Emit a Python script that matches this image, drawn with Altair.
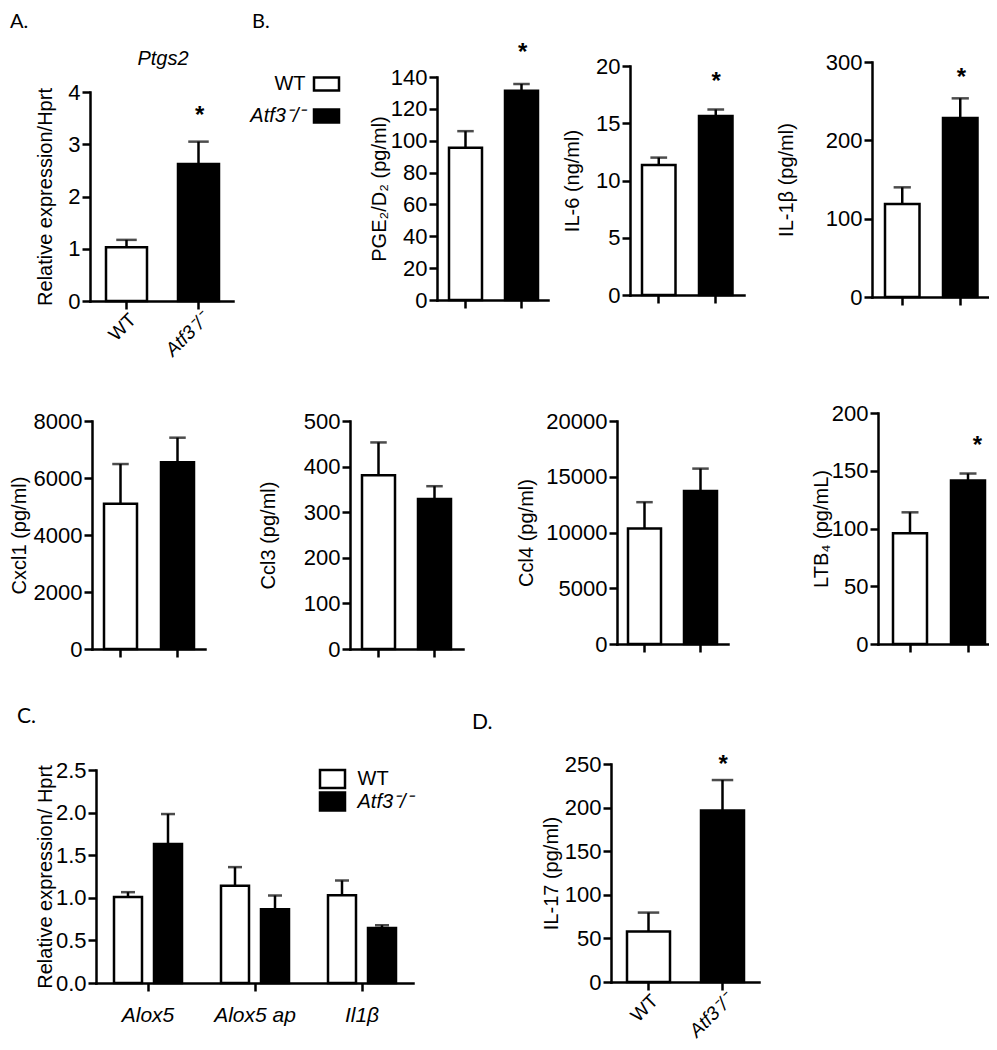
import altair as alt
import pandas as pd

W, H = 981, 1034
FONT = "Liberation Sans"
LW = 2.5

# ---------------- data ----------------
genotypes = ["WT", "Atf3⁻/⁻"]

ptgs2_mean = [1.03, 2.62]
ptgs2_sem = [0.14, 0.43]
pge_mean = [95.6, 131.4]
pge_sem = [10.4, 4.2]
il6_mean = [11.35, 15.63]
il6_sem = [0.65, 0.57]
il1b_mean = [118.7, 228.5]
il1b_sem = [21.3, 25.1]
cxcl1_mean = [5100, 6550]
cxcl1_sem = [1390, 865]
ccl3_mean = [381, 329]
ccl3_sem = [72, 28]
ccl4_mean = [10360, 13730]
ccl4_sem = [2360, 2000]
ltb4_mean = [95.8, 141.6]
ltb4_sem = [18.2, 6.0]
il17_mean = [57.8, 196.8]
il17_sem = [21.8, 34.8]

genes = ["Alox5", "Alox5 ap", "Il1β"]
c_wt_mean = [1.01, 1.14, 1.03]
c_wt_sem = [0.056, 0.22, 0.173]
c_ko_mean = [1.63, 0.866, 0.647]
c_ko_sem = [0.353, 0.161, 0.031]

star_text = "*"
# significance marker height (data units) per panel
star_ptgs2 = 3.66
star_pge = 158.8
star_il6 = 19.1
star_il1b = 287
star_ltb4 = 177
star_il17 = 256

panel_letters = ["A.", "B.", "C.", "D."]
ptgs2_title = "Ptgs2"

fill_scale = alt.Scale(domain=genotypes, range=["white", "black"])
italic_ko = {"condition": {"test": "datum.value === 'WT'", "value": "normal"}, "value": "italic"}


def band_params(a, e, b1, bw, step, n):
    span = e - a
    pi = 1 - bw / step
    po = (span / step - n + pi) / 2
    left = span - step * (n - pi)
    al = (b1 - a) / left if left > 0 else 0.5
    return pi, po, max(0.0, min(1.0, al))


def two_bar(mean, sem, ymax, ystep, title, lay, star=None, fmt="d", tick_labels=False):
    a, e, b1, bw, step, y0, yt, tx = lay
    df = pd.DataFrame({"g": genotypes, "mean": mean, "sem": sem})
    df["top"] = df["mean"] + df["sem"]
    pi, po, al = band_params(a, e, b1, bw, step, 2)
    xs = alt.Scale(domain=genotypes, range=[a, e], paddingInner=pi, paddingOuter=po, align=al)
    ys = alt.Scale(domain=[0, ymax], range=[y0, yt], nice=False, zero=True)
    vals = [round(i * ystep, 4) for i in range(int(round(ymax / ystep)) + 1)]
    xaxis_kw = dict(orient="bottom", offset=y0 - H, title=None, labels=tick_labels)
    if tick_labels:
        xaxis_kw.update(labelAngle=-45, labelPadding=1, labelFontSize=19, labelFontStyle=italic_ko)
    xaxis = alt.Axis(**xaxis_kw)
    yaxis = alt.Axis(orient="left", offset=-a, title=title, titleX=tx, values=vals, format=fmt)
    base = alt.Chart(df)
    bars = base.mark_bar(stroke="black", strokeWidth=LW).encode(
        x=alt.X("g:N", scale=xs, axis=xaxis),
        y=alt.Y("mean:Q", scale=ys, axis=yaxis),
        fill=alt.Fill("g:N", scale=fill_scale, legend=None),
    )
    err = base.mark_rule(color="black", strokeWidth=LW).encode(
        x=alt.X("g:N", scale=xs, axis=None),
        y=alt.Y("mean:Q", scale=ys, axis=None),
        y2="top:Q",
    )
    cap = base.mark_tick(color="black", thickness=LW, size=bw / 2).encode(
        x=alt.X("g:N", scale=xs, axis=None),
        y=alt.Y("top:Q", scale=ys, axis=None),
    )
    layers = [bars, err, cap]
    if star is not None:
        sdf = pd.DataFrame({"g": [genotypes[1]], "level": [star], "s": [star_text]})
        st = alt.Chart(sdf).mark_text(font=FONT, fontSize=24, fontWeight="bold", baseline="middle", dy=6, color="black").encode(
            x=alt.X("g:N", scale=xs, axis=None),
            y=alt.Y("level:Q", scale=ys, axis=None),
            text="s:N",
        )
        layers.append(st)
    return layers


def grouped_panel():
    a, e, y0, yt, tx = 88, 405, 975, 762, -40.6
    rows = []
    for i, gname in enumerate(genes):
        rows.append({"gene": gname, "g": genotypes[0], "mean": c_wt_mean[i], "sem": c_wt_sem[i]})
        rows.append({"gene": gname, "g": genotypes[1], "mean": c_ko_mean[i], "sem": c_ko_sem[i]})
    df = pd.DataFrame(rows)
    df["top"] = df["mean"] + df["sem"]
    pi, po, al = band_params(a, e, 100, 80, 107, 3)
    xs = alt.Scale(domain=genes, range=[a, e], paddingInner=pi, paddingOuter=po, align=al)
    xo = alt.Scale(domain=genotypes, paddingInner=0.3, paddingOuter=0.15)
    ys = alt.Scale(domain=[0, 2.5], range=[y0, yt], nice=False, zero=True)
    xaxis = alt.Axis(orient="bottom", offset=y0 - H, title=None, labelAngle=0, labelFontSize=21,
                     labelFontStyle="italic", labelPadding=13)
    yaxis = alt.Axis(orient="left", offset=-a, title="Relative expression/ Hprt", titleX=tx,
                     values=[0, 0.5, 1.0, 1.5, 2.0, 2.5], format=".1f")
    base = alt.Chart(df)
    bars = base.mark_bar(stroke="black", strokeWidth=LW).encode(
        x=alt.X("gene:N", scale=xs, axis=xaxis),
        xOffset=alt.XOffset("g:N", scale=xo),
        y=alt.Y("mean:Q", scale=ys, axis=yaxis),
        fill=alt.Fill("g:N", scale=fill_scale, legend=None),
    )
    err = base.mark_rule(color="black", strokeWidth=LW).encode(
        x=alt.X("gene:N", scale=xs, axis=None),
        xOffset=alt.XOffset("g:N", scale=xo),
        y=alt.Y("mean:Q", scale=ys, axis=None),
        y2="top:Q",
    )
    cap = base.mark_tick(color="black", thickness=LW, size=14).encode(
        x=alt.X("gene:N", scale=xs, axis=None),
        xOffset=alt.XOffset("g:N", scale=xo),
        y=alt.Y("top:Q", scale=ys, axis=None),
    )
    return [bars, err, cap]


def legend_panel(xr, yr, box_h, orient, offset, pad):
    df = pd.DataFrame({"g": genotypes})
    step = (yr[1] - yr[0]) / 2
    pi = 1 - box_h / step
    po = pi / 2
    ys = alt.Scale(domain=genotypes, range=yr, paddingInner=pi, paddingOuter=po)
    return [alt.Chart(df).mark_bar(stroke="black", strokeWidth=LW).encode(
        y=alt.Y("g:N", scale=ys, axis=alt.Axis(orient=orient, offset=offset, title=None, domain=False,
                                               ticks=False, tickSize=0, labelPadding=pad,
                                               labelFontSize=20, labelFontStyle=italic_ko)),
        x=alt.XDatum(0, type="quantitative", scale=alt.Scale(domain=[0, 1], range=xr), axis=None),
        x2=alt.X2Datum(1),
        fill=alt.Fill("g:N", scale=fill_scale, legend=None),
    )]


def label(text, x, y, size=21, font="Lato", style="normal", align="left"):
    return alt.Chart(pd.DataFrame({"t": [text]})).mark_text(
        font=font, fontSize=size, fontStyle=style, align=align, baseline="alphabetic", color="black"
    ).encode(x=alt.value(x), y=alt.value(y), text="t:N")


units = []
units += two_bar(ptgs2_mean, ptgs2_sem, 4, 1, "Relative expression/Hprt",
                 (82, 225, 98, 41, 72, 293, 84, -34.6), star=star_ptgs2, tick_labels=True)
units += two_bar(pge_mean, pge_sem, 140, 20, "PGE₂/D₂ (pg/ml)",
                 (429, 540, 441, 33, 56, 292, 69, -47.6), star=star_pge)
units += two_bar(il6_mean, il6_sem, 20, 5, "IL-6 (ng/ml)",
                 (622, 736, 634, 33.5, 57, 287, 58, -47.6), star=star_il6)
units += two_bar(il1b_mean, il1b_sem, 300, 100, "IL-1β (pg/ml)",
                 (864, 981, 877, 34.5, 58, 289, 54, -75.6), star=star_il1b)
units += two_bar(cxcl1_mean, cxcl1_sem, 8000, 2000, "Cxcl1 (pg/ml)",
                 (84, 197, 96, 33, 57, 641, 413, -62.5))
units += two_bar(ccl3_mean, ccl3_sem, 500, 100, "Ccl3 (pg/ml)",
                 (342, 455, 354, 33, 56, 641, 413, -71.6))
units += two_bar(ccl4_mean, ccl4_sem, 20000, 5000, "Ccl4 (pg/ml)",
                 (609, 720, 620, 33, 56, 636, 413, -80.6))
units += two_bar(ltb4_mean, ltb4_sem, 200, 50, "LTB₄ (pg/mL)",
                 (870, 981, 885, 34, 58, 636, 405, -46.6), star=star_ltb4)
units += two_bar(il17_mean, il17_sem, 250, 50, "IL-17 (pg/ml)",
                 (603, 751, 619, 43, 74, 974, 756, -49.6), star=star_il17, tick_labels=True)
units += grouped_panel()
units += legend_panel([306, 331], [60, 124], 13, "left", -306, 9)
units += legend_panel([312, 337], [759.75, 804.75], 18, "right", 337 - W, 12)

units += [
    label(panel_letters[0], 2, 20, size=20),
    label(panel_letters[1], 244, 20, size=20),
    label(panel_letters[2], 9, 715),
    label(panel_letters[3], 464, 721),
    label(ptgs2_title, 155, 57, size=20, font=FONT, style="italic", align="center"),
]

chart = alt.layer(*units).resolve_scale(
    x="independent", y="independent", xOffset="independent"
).resolve_axis(
    x="independent", y="independent"
).properties(
    width=W, height=H, padding=0, autosize=alt.AutoSizeParams(type="none")
).configure_view(stroke=None).configure_axis(
    domainColor="black", domainWidth=LW, domainCap="square",
    tickColor="black", tickWidth=LW, tickSize=8,
    labelColor="black", labelFont=FONT, labelFontSize=22, labelPadding=2,
    titleFont=FONT, titleFontSize=20, titleFontWeight="normal", titleColor="black",
    grid=False,
)

chart.save("out.html", embed_options={"renderer": "svg", "actions": False})
